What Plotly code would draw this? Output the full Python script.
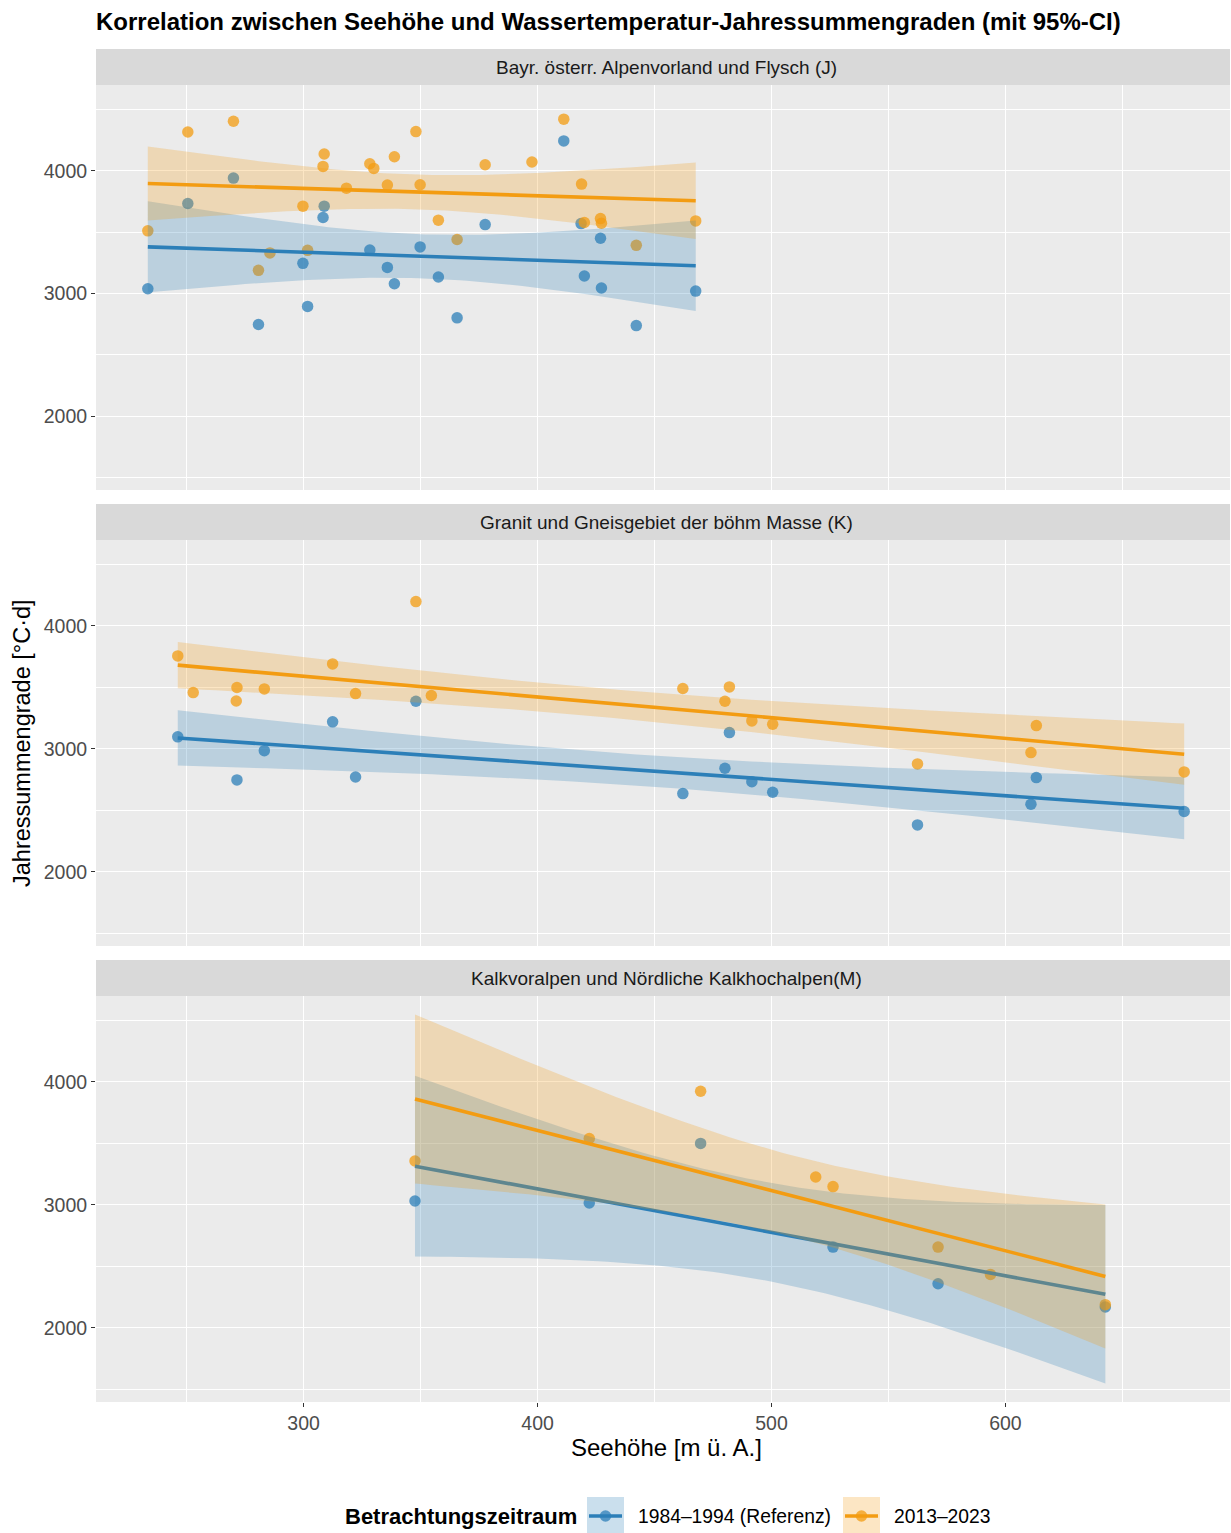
import math
import numpy as np
import plotly.graph_objects as go
from plotly.subplots import make_subplots

# ---------------------------------------------------------------
# Data: elevation (m a.s.l.) and annual water-temperature degree days
# ---------------------------------------------------------------
panel_titles = [
    "Bayr. österr. Alpenvorland und Flysch (J)",
    "Granit und Gneisgebiet der böhm Masse (K)",
    "Kalkvoralpen und Nördliche Kalkhochalpen(M)",
]
period_labels = ["1984–1994 (Referenz)", "2013–2023"]

# Region J
j_ref_x = [233.4, 250.5, 270.0, 280.7, 299.7, 301.7, 308.8, 308.3, 328.3, 335.8, 338.8,
           349.8, 357.6, 365.6, 377.6, 411.2, 418.6, 420.0, 426.9, 427.3, 442.2, 467.6]
j_ref_y = [3038, 3733, 3940, 2747, 3245, 2894, 3711, 3619, 3354, 3212, 3079,
           3379, 3134, 2801, 3561, 4243, 3569, 3142, 3450, 3044, 2738, 3019]
j_new_x = [233.4, 250.5, 270.0, 285.6, 280.7, 299.7, 301.7, 308.8, 308.3, 318.3, 328.3,
           330.0, 335.8, 338.8, 348.0, 349.8, 357.6, 365.6, 377.6, 397.6, 411.2, 418.8,
           420.0, 426.9, 427.3, 442.2, 467.6]
j_new_y = [3510, 4316, 4403, 3330, 3188, 3711, 3351, 4136, 4035, 3858, 4057,
           4019, 3883, 4114, 4319, 3886, 3597, 3439, 4049, 4071, 4420, 3891,
           3578, 3610, 3572, 3392, 3591]

# Region K
k_ref_x = [246.2, 271.5, 283.2, 312.4, 322.2, 348.0, 462.1, 482.0, 480.1, 491.6, 500.5,
           562.4, 613.2, 610.9, 676.4]
k_ref_y = [3098, 2748, 2986, 3220, 2772, 3388, 2637, 3133, 2843, 2734, 2648,
           2382, 2767, 2550, 2491]
k_new_x = [246.2, 252.8, 271.5, 271.2, 283.2, 312.4, 322.2, 348.0, 354.6, 462.1, 482.0,
           480.1, 491.6, 500.5, 562.4, 613.2, 610.9, 676.4]
k_new_y = [3756, 3458, 3499, 3390, 3488, 3691, 3450, 4198, 3434, 3491, 3504,
           3388, 3228, 3201, 2878, 3190, 2970, 2813]

# Region M
m_ref_x = [347.6, 422.1, 469.7, 526.3, 571.2, 642.7]
m_ref_y = [3032, 3016, 3500, 2657, 2359, 2170]
m_new_x = [347.6, 422.1, 469.7, 518.9, 526.3, 571.2, 593.6, 642.7]
m_new_y = [3357, 3540, 3924, 3227, 3149, 2657, 2435, 2189]

panels = [
    ((j_ref_x, j_ref_y), (j_new_x, j_new_y)),
    ((k_ref_x, k_ref_y), (k_new_x, k_new_y)),
    ((m_ref_x, m_ref_y), (m_new_x, m_new_y)),
]

colors = ["#2C7FB8", "#F39C12"]
x_ticks = [300, 400, 500, 600]
y_ticks = [2000, 3000, 4000]

# ---------------------------------------------------------------
# Linear model with 95% confidence band
# ---------------------------------------------------------------
def t_quantile(p, df):
    c = math.exp(math.lgamma((df + 1) / 2) - math.lgamma(df / 2)) / math.sqrt(df * math.pi)
    xs = np.linspace(0, 60, 300001)
    pdf = c * (1 + xs ** 2 / df) ** (-(df + 1) / 2)
    cdf = 0.5 + np.concatenate([[0.0], np.cumsum((pdf[1:] + pdf[:-1]) / 2 * np.diff(xs))])
    return float(np.interp(p, cdf, xs))


def lm_fit(x, y, n_grid=80):
    x = np.asarray(x, float)
    y = np.asarray(y, float)
    n = len(x)
    xm = x.mean()
    sxx = ((x - xm) ** 2).sum()
    b = ((x - xm) * (y - y.mean())).sum() / sxx
    a = y.mean() - b * xm
    resid = y - (a + b * x)
    s = math.sqrt((resid ** 2).sum() / (n - 2))
    tq = t_quantile(0.975, n - 2)
    gx = np.linspace(x.min(), x.max(), n_grid)
    gy = a + b * gx
    se = s * np.sqrt(1 / n + (gx - xm) ** 2 / sxx)
    return gx, gy, gy - tq * se, gy + tq * se


fits = [[lm_fit(*series) for series in pair] for pair in panels]

# ---------------------------------------------------------------
# Figure geometry (pixels)
# ---------------------------------------------------------------
W, H = 1231, 1533
L, R, T, B = 96, 1, 49, 131
PW, PH = W - L - R, H - T - B
FULL_PW = 1140          # full panel width; the right edge runs past the page

# Scale limits (5 % expansion like ggplot)
all_x = np.concatenate([np.asarray(s[0]) for pair in panels for s in pair])
all_y = np.concatenate([np.asarray(s[1]) for pair in panels for s in pair] +
                       [f[2] for fp in fits for f in fp] + [f[3] for fp in fits for f in fp])
x_lo = all_x.min() - 0.05 * np.ptp(all_x)
x_hi = all_x.max() + 0.05 * np.ptp(all_x)
xr = [x_lo, x_lo + (x_hi - x_lo) * PW / FULL_PW]
yr = [all_y.min() - 0.05 * np.ptp(all_y), all_y.max() + 0.05 * np.ptp(all_y)]


def px_x(p):
    return (p - L) / PW


def px_y(p):
    return 1 - (p - T) / PH


panel_px = [(85, 490), (540, 946), (996, 1402)]
strip_px = [(49, 85), (504, 540), (960, 996)]

fig = make_subplots(rows=3, cols=1, shared_xaxes=True)

for i, (pair, fp) in enumerate(zip(panels, fits)):
    row = i + 1
    # points first
    for (x, y), col in zip(pair, colors):
        fig.add_trace(go.Scatter(
            x=x, y=y, mode="markers",
            marker=dict(color=col, size=11.5, opacity=0.75, line=dict(width=0)),
            hoverinfo="skip", showlegend=False), row=row, col=1)
    # ribbons and regression lines
    for (gx, gy, lo, hi), col in zip(fp, colors):
        fig.add_trace(go.Scatter(
            x=np.concatenate([gx, gx[::-1]]), y=np.concatenate([hi, lo[::-1]]),
            mode="lines", fill="toself", line=dict(width=0),
            fillcolor=col, opacity=0.25, hoverinfo="skip", showlegend=False),
            row=row, col=1)
        fig.add_trace(go.Scatter(
            x=gx, y=gy, mode="lines", line=dict(color=col, width=3.6),
            hoverinfo="skip", showlegend=False), row=row, col=1)

text_font = "Liberation Sans, Arial, sans-serif"
axis_font = dict(family=text_font, size=19.5, color="#4D4D4D")

for i in range(3):
    sfx = "" if i == 0 else str(i + 1)
    top, bot = panel_px[i]
    fig.layout["yaxis" + sfx].update(
        domain=[px_y(bot), px_y(top)], range=yr, tickvals=y_ticks,
        showgrid=True, gridcolor="white", gridwidth=1.3, zeroline=False,
        ticks="outside", ticklen=4, tickwidth=1.3, tickcolor="#333333",
        tickfont=axis_font,
        minor=dict(tickvals=[1500, 2500, 3500, 4500], showgrid=True,
                   gridcolor="white", gridwidth=0.65, ticks=""))
    fig.layout["xaxis" + sfx].update(
        range=xr, tickvals=x_ticks, showgrid=True, gridcolor="white", gridwidth=1.3,
        zeroline=False, showticklabels=(i == 2),
        ticks="outside" if i == 2 else "", ticklen=4, tickwidth=1.3, tickcolor="#333333",
        tickfont=axis_font,
        minor=dict(tickvals=[250, 350, 450, 550, 650], showgrid=True,
                   gridcolor="white", gridwidth=0.65, ticks=""))

shapes = []
annotations = []

# facet strips
strip_cx = px_x(96 + FULL_PW / 2)
for (s_top, s_bot), label in zip(strip_px, panel_titles):
    shapes.append(dict(type="rect", xref="paper", yref="paper",
                       x0=0, x1=1, y0=px_y(s_bot), y1=px_y(s_top),
                       fillcolor="#D9D9D9", line=dict(width=0), layer="below"))
    annotations.append(dict(xref="paper", yref="paper", x=strip_cx, y=px_y((s_top + s_bot) / 2),
                            text=label, showarrow=False, xanchor="center", yanchor="middle",
                            font=dict(family=text_font, size=19, color="#1A1A1A")))

# axis titles
annotations.append(dict(xref="paper", yref="paper", x=strip_cx, y=px_y(1447),
                        text="Seehöhe [m ü. A.]", showarrow=False,
                        xanchor="center", yanchor="middle",
                        font=dict(family=text_font, size=24, color="black")))
annotations.append(dict(xref="paper", yref="paper", x=px_x(22), y=px_y(743),
                        text="Jahressummengrade [°C·d]", showarrow=False, textangle=-90,
                        xanchor="center", yanchor="middle",
                        font=dict(family=text_font, size=23.5, color="black")))

# legend
leg_cy = 1516
annotations.append(dict(xref="paper", yref="paper", x=px_x(343), y=px_y(leg_cy),
                        text="<b>Betrachtungszeitraum</b>", showarrow=False,
                        xanchor="left", yanchor="middle",
                        font=dict(family=text_font, size=22, color="black")))
key_x0 = [587, 843]
label_x = [636, 892]
for kx, lx, col, lab in zip(key_x0, label_x, colors, period_labels):
    shapes.append(dict(type="rect", xref="paper", yref="paper",
                       x0=px_x(kx), x1=px_x(kx + 37), y0=px_y(1534), y1=px_y(1497),
                       fillcolor=col, opacity=0.25, line=dict(width=0)))
    shapes.append(dict(type="line", xref="paper", yref="paper",
                       x0=px_x(kx + 2), x1=px_x(kx + 35), y0=px_y(leg_cy), y1=px_y(leg_cy),
                       line=dict(color=col, width=3.6)))
    shapes.append(dict(type="circle", xref="paper", yref="paper",
                       x0=px_x(kx + 18.5 - 5.75), x1=px_x(kx + 18.5 + 5.75),
                       y0=px_y(leg_cy + 5.75), y1=px_y(leg_cy - 5.75),
                       fillcolor=col, opacity=0.75, line=dict(width=0)))
    annotations.append(dict(xref="paper", yref="paper", x=px_x(lx), y=px_y(leg_cy),
                            text=lab, showarrow=False, xanchor="left", yanchor="middle",
                            font=dict(family=text_font, size=19.3, color="black")))

fig.update_layout(
    width=W, height=H,
    margin=dict(l=L, r=R, t=T, b=B),
    paper_bgcolor="white", plot_bgcolor="#EBEBEB",
    showlegend=False,
    shapes=shapes, annotations=annotations,
    title=dict(text="<b>Korrelation zwischen Seehöhe und Wassertemperatur-Jahressummengraden (mit 95%-CI)</b>",
               x=96 / W, xref="container", xanchor="left",
               y=1 - 22 / H, yref="container", yanchor="middle",
               font=dict(family=text_font, size=24, color="black")),
)

fig.write_html("out.html")
